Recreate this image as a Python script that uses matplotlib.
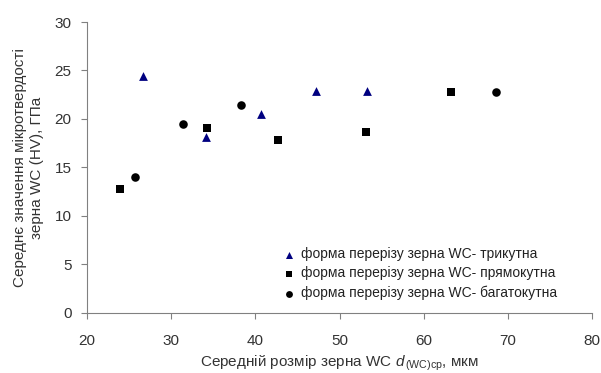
import matplotlib
matplotlib.use("Agg")
import matplotlib.pyplot as plt

plt.rcParams['font.family'] = ['Liberation Sans', 'DejaVu Sans']
plt.rcParams['mathtext.fontset'] = 'custom'
plt.rcParams['mathtext.rm'] = 'Liberation Sans'
plt.rcParams['mathtext.it'] = 'Liberation Sans:italic'

# triangular grain section
tri_x = [26.7, 34.1, 40.7, 47.2, 53.3]
tri_y = [24.4, 18.1, 20.5, 22.9, 22.9]
# rectangular grain section
sq_x = [23.9, 34.2, 42.7, 53.1, 63.3]
sq_y = [12.75, 19.1, 17.8, 18.7, 22.8]
# polygonal grain section
circ_x = [25.7, 31.4, 38.25, 68.6]
circ_y = [14.05, 19.5, 21.4, 22.8]

labels = ["форма перерізу зерна WC- трикутна",
          "форма перерізу зерна WC- прямокутна",
          "форма перерізу зерна WC- багатокутна"]

fig = plt.figure(figsize=(6.01, 3.73), dpi=100)
ax = fig.add_axes([0.1448, 0.161, 0.8402, 0.780])

ax.scatter(tri_x, tri_y, marker='^', s=40, color='#000080', label=labels[0], linewidths=0)
ax.scatter(sq_x, sq_y, marker='s', s=36, color='black', label=labels[1], linewidths=0)
ax.scatter(circ_x, circ_y, marker='o', s=38, color='black', label=labels[2], linewidths=0)

ax.set_xlim(20, 80)
ax.set_ylim(0, 30)
ax.set_xticks(range(20, 81, 10))
ax.set_yticks(range(0, 31, 5))

for s in ['top', 'right']:
    ax.spines[s].set_visible(False)
for s in ['left', 'bottom']:
    ax.spines[s].set_color('#808080')
    ax.spines[s].set_linewidth(0.8)
ax.tick_params(direction='out', length=4, color='#808080', labelsize=11,
               labelcolor='#333333', width=0.8)
ax.tick_params(axis='x', pad=11)
ax.tick_params(axis='y', pad=7)

ax.set_xlabel(r"Середній розмір зерна WC $d_{\,\mathrm{(WC)ср}}$, мкм",
              fontsize=11, color='#333333', labelpad=4)
ax.set_ylabel("Середнє значення мікротвердості\nзерна WC (HV), ГПа",
              fontsize=11, color='#333333', labelpad=8)

ax.legend(loc='lower right', bbox_to_anchor=(0.945, 0.02), frameon=False,
          fontsize=10, handletextpad=0.3, labelspacing=0.38, borderpad=0,
          handlelength=1.2, markerscale=0.8, labelcolor='#222222')

fig.savefig("out.png", dpi=100)
